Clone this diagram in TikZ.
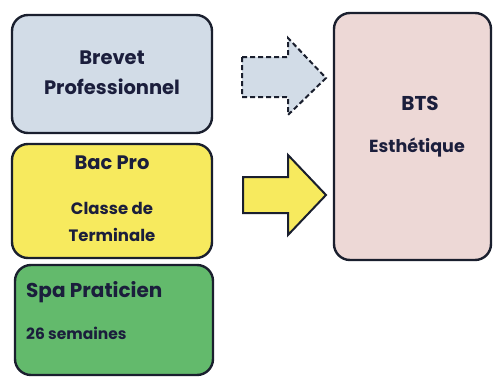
\documentclass[tikz,border=0pt]{standalone}
\usepackage{fontspec}
\setmainfont{Poppins}
\definecolor{txt}{HTML}{1B1E3C}
\definecolor{edge}{HTML}{1A1F2E}
\definecolor{bluegray}{HTML}{D2DCE7}
\definecolor{yel}{HTML}{F7EA5E}
\definecolor{grn}{HTML}{63BA6C}
\definecolor{pinkish}{HTML}{EDD8D6}
\begin{document}
\begin{tikzpicture}[x=1pt,y=-1pt,
  box/.style={draw=edge,line width=2.4pt,rounded corners=16pt},
  lbl/.style={text=txt,font=\bfseries,inner sep=0pt,anchor=center},
  arr/.style={draw=edge,line width=2pt,line join=miter}]
\useasboundingbox (0,0) rectangle (493,378);
\fill[white] (0,0) rectangle (493,378);
\draw[box,fill=bluegray] (12,15) rectangle (212,133);
\draw[box,fill=yel] (12,144) rectangle (212,258);
\draw[box,fill=grn] (15,265) rectangle (213,375);
\draw[box,fill=pinkish] (334,13) rectangle (491,260);
\node[lbl,font=\bfseries\fontsize{19.5}{22}\selectfont] (b1) at (112,58) {Brevet};
\node[lbl,font=\bfseries\fontsize{19.5}{22}\selectfont] (b2) at (112,87) {Professionnel};
\node[lbl,font=\bfseries\fontsize{19.5}{22}\selectfont] (c1) at (112,163) {Bac Pro};
\node[lbl,font=\bfseries\fontsize{16.5}{19}\selectfont] (c2) at (112,208) {Classe de};
\node[lbl,font=\bfseries\fontsize{16.5}{19}\selectfont] (c3) at (112,235) {Terminale};
\node[lbl,anchor=west,font=\bfseries\fontsize{20}{23}\selectfont] (s1) at (26,292) {Spa Praticien};
\node[lbl,anchor=west,font=\bfseries\fontsize{15.5}{18}\selectfont] (s2) at (26,333) {26 semaines};
\node[lbl,font=\bfseries\fontsize{20}{23}\selectfont] (t1) at (420,103) {BTS};
\node[lbl,font=\bfseries\fontsize{17.5}{20}\selectfont] (t2) at (417,148) {Esthétique};
\draw[arr,dashed,dash pattern=on 5pt off 3pt,fill=bluegray] (242,57) -- (288,57) -- (288,38) -- (326,78) -- (288,115) -- (288,97) -- (242,97) -- cycle;
\draw[arr,fill=yel] (243,177) -- (288,177) -- (288,155) -- (326,195) -- (288,235) -- (288,213) -- (243,213) -- cycle;
\end{tikzpicture}
\end{document}
